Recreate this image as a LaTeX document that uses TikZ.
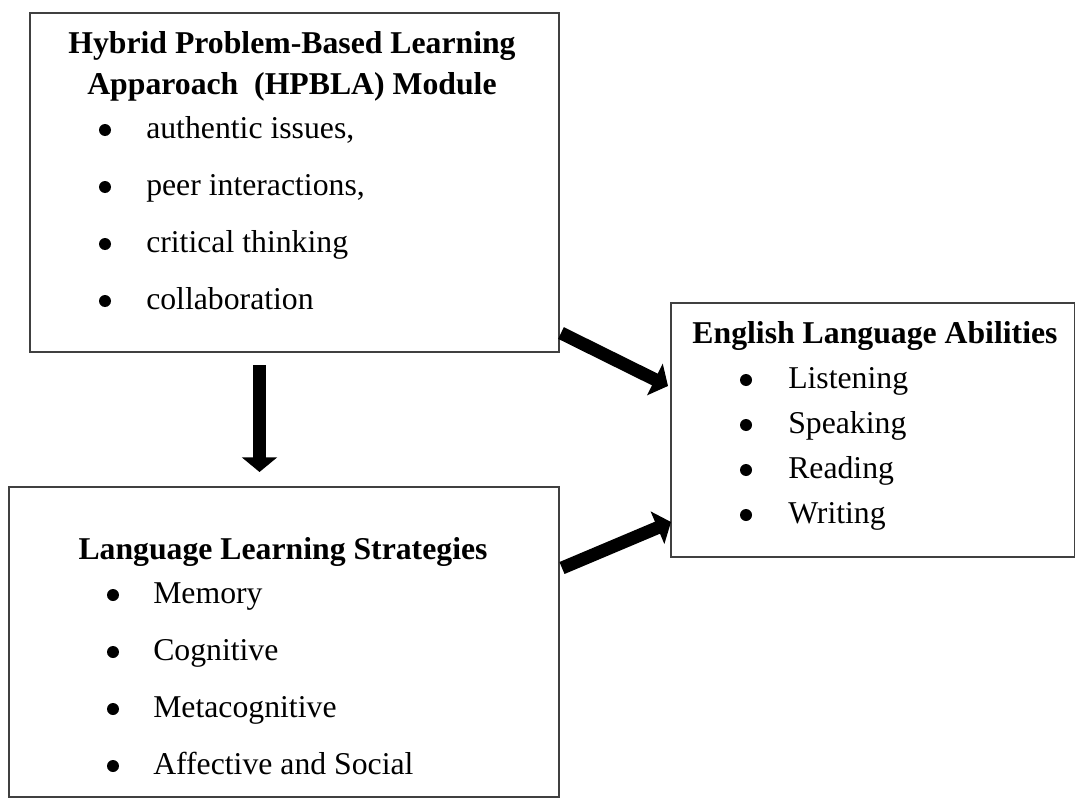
\documentclass[tikz,border=0pt]{standalone}
\usepackage{fontspec}
\setmainfont{Liberation Serif}
\usetikzlibrary{arrows.meta,fit}
\begin{document}
\begin{tikzpicture}[x=0.75pt,y=-0.75pt,
  box/.style={draw=black!75,line width=0.9pt,inner sep=0pt,fill=none},
  txt/.style={inner sep=0pt,font=\fontsize{23.8pt}{28pt}\selectfont},
  ttl/.style={txt,font=\fontsize{23.8pt}{28pt}\selectfont\bfseries,anchor=base},
  item/.style={txt,anchor=base west},
  dot/.style={circle,fill=black,inner sep=0pt,minimum size=9pt},
  bigarrow/.style={line width=9.75pt,-{Triangle[width=26pt,length=11pt]}}]
\useasboundingbox (0,0) rectangle (1076,810);
% boxes
\node[box,fit={(30,13) (559,352)}] (b1) {};
\node[box,fit={(671,303) (1074.5,557)}] (b2) {};
\node[box,fit={(9,487) (559,797)}] (b3) {};
% box 1
\node[ttl] (t1a) at (292,53) {Hybrid Problem-Based Learning};
\node[ttl] (t1b) at (292,94) {Apparoach\ \ (HPBLA) Module};
\node[dot] (d11) at (105,130) {};
\node[item] (i11) at (146,138) {authentic issues,};
\node[dot] (d12) at (105,187) {};
\node[item] (i12) at (146,195) {peer interactions,};
\node[dot] (d13) at (105,244) {};
\node[item] (i13) at (146,252) {critical thinking};
\node[dot] (d14) at (105,301) {};
\node[item] (i14) at (146,309) {collaboration};
% box 2
\node[ttl] (t2) at (875,343) {English Language Abilities};
\node[dot] (d21) at (746,380) {};
\node[item] (i21) at (788,388) {Listening};
\node[dot] (d22) at (746,425) {};
\node[item] (i22) at (788,433) {Speaking};
\node[dot] (d23) at (746,470) {};
\node[item] (i23) at (788,478) {Reading};
\node[dot] (d24) at (746,515) {};
\node[item] (i24) at (788,523) {Writing};
% box 3
\node[ttl] (t3) at (283,559) {Language Learning Strategies};
\node[dot] (d31) at (113,595) {};
\node[item] (i31) at (153,603) {Memory};
\node[dot] (d32) at (113,652) {};
\node[item] (i32) at (153,660) {Cognitive};
\node[dot] (d33) at (113,709) {};
\node[item] (i33) at (153,717) {Metacognitive};
\node[dot] (d34) at (113,766) {};
\node[item] (i34) at (153,774) {Affective and Social};
% arrows
\coordinate (a1s) at (259.5,365);
\coordinate (a1e) at (259.5,472);
\coordinate (a2s) at (561,333);
\coordinate (a2e) at (668,386);
\coordinate (a3s) at (562,568);
\coordinate (a3e) at (671,522);
\draw[bigarrow] (a1s) -- (a1e);
\draw[bigarrow] (a2s) -- (a2e);
\draw[bigarrow] (a3s) -- (a3e);
\end{tikzpicture}
\end{document}
